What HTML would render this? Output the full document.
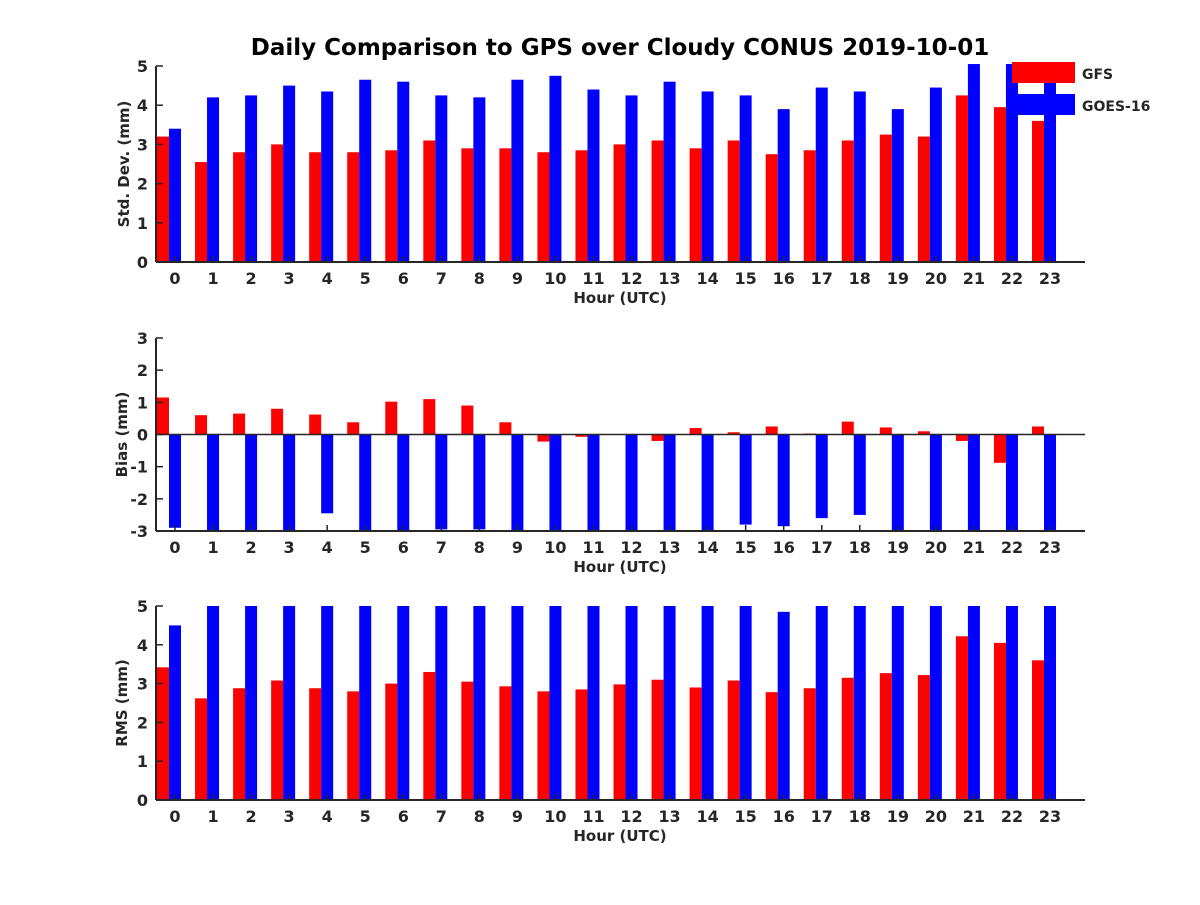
<!DOCTYPE html>
<html><head><meta charset="utf-8"><style>
body{margin:0;background:#fff}
svg text{font-family:"DejaVu Sans","Liberation Sans",sans-serif;font-weight:bold;fill:#262626}
</style></head><body>
<svg id="chart" width="1200" height="900" xmlns="http://www.w3.org/2000/svg">
<text x="620" y="55" text-anchor="middle" font-size="23" style="fill:#000">Daily Comparison to GPS over Cloudy CONUS 2019-10-01</text>
</svg>
<script>
const hours=[0,1,2,3,4,5,6,7,8,9,10,11,12,13,14,15,16,17,18,19,20,21,22,23];
const stdGFS=[3.2,2.55,2.8,3.0,2.8,2.8,2.85,3.1,2.9,2.9,2.8,2.85,3.0,3.1,2.9,3.1,2.75,2.85,3.1,3.25,3.2,4.25,3.95,3.6];
const stdGOES=[3.4,4.2,4.25,4.5,4.35,4.65,4.6,4.25,4.2,4.65,4.75,4.4,4.25,4.6,4.35,4.25,3.9,4.45,4.35,3.9,4.45,5.05,5.05,4.6];
const biasGFS=[1.15,0.6,0.65,0.8,0.62,0.38,1.02,1.1,0.9,0.38,-0.22,-0.07,0,-0.2,0.2,0.07,0.25,0.03,0.4,0.22,0.1,-0.2,-0.88,0.25];
const biasGOES=[-2.9,-3,-3,-3,-2.45,-3,-3,-2.95,-2.95,-3,-3,-3,-3,-3,-3,-2.8,-2.85,-2.6,-2.5,-3,-3,-3,-3,-3];
const rmsGFS=[3.42,2.62,2.88,3.08,2.88,2.8,3.0,3.3,3.05,2.93,2.8,2.85,2.98,3.1,2.9,3.08,2.78,2.88,3.15,3.27,3.22,4.22,4.05,3.6];
const rmsGOES=[4.5,5,5,5,5,5,5,5,5,5,5,5,5,5,5,5,4.85,5,5,5,5,5,5,5];
const stdTicks=[0,1,2,3,4,5];
const biasTicks=[-3,-2,-1,0,1,2,3];
const rmsTicks=[0,1,2,3,4,5];

const svg=document.getElementById('chart');
const NS='http://www.w3.org/2000/svg';
function mk(tag,attrs,parent){const e=document.createElementNS(NS,tag);for(const k in attrs)e.setAttribute(k,attrs[k]);(parent||svg).appendChild(e);return e;}
const X0=156,X1=1085;
const xs=h=>175+h*(875/23);

function panel(name,top,bot,ymin,ymax,ticks,gfs,goes,ylabel){
  const g=mk('g',{});
  
  
  const ys=v=>bot-(v-ymin)/(ymax-ymin)*(bot-top);
  const clip=v=>Math.max(ymin,Math.min(ymax+0.05,v));
  const base=ys(Math.max(ymin,0));
  hours.forEach((h,i)=>{
    const c=xs(h);
    const a=ys(clip(gfs[i]));
    const r=mk('rect',{x:c-18,y:Math.min(a,base),width:12,height:Math.abs(base-a),fill:'#ff0000'},g);
    
    
    const b=ys(clip(goes[i]));
    const r2=mk('rect',{x:c-6,y:Math.min(b,base),width:12,height:Math.abs(base-b),fill:'#0000ff'},g);
    
    
    mk('line',{x1:c,x2:c,y1:bot,y2:bot-6,stroke:'#262626','stroke-width':1.5},g);
    const tl=mk('text',{x:c,y:bot+22,'text-anchor':'middle','font-size':16},g);
    tl.textContent=h;
    
    
  });
  ticks.forEach(v=>{
    const y=ys(v);
    mk('line',{x1:X0,x2:X0+7,y1:y,y2:y,stroke:'#262626','stroke-width':1.5},g);
    const tl=mk('text',{x:X0-8,y:y+6,'text-anchor':'end','font-size':16},g);
    tl.textContent=v;
    
    
  });
  mk('line',{x1:X0,x2:X0,y1:top,y2:bot,stroke:'#262626','stroke-width':2},g);
  mk('line',{x1:X0,x2:X1,y1:bot,y2:bot,stroke:'#262626','stroke-width':2},g);
  if(ymin<0) mk('line',{x1:X0,x2:X1,y1:ys(0),y2:ys(0),stroke:'#262626','stroke-width':1.5},g);
  const xl=mk('text',{x:620,y:bot+41,'text-anchor':'middle','font-size':15},g);
  xl.textContent='Hour (UTC)';
  
  
  const yl=mk('text',{transform:`translate(${ylabel.length>10?129:127},${(top+bot)/2}) rotate(-90)`,'text-anchor':'middle','font-size':15},g);
  yl.textContent=ylabel;
  
  
}
panel('std',66,262,0,5,stdTicks,stdGFS,stdGOES,'Std. Dev. (mm)');
panel('bias',338,531,-3,3,biasTicks,biasGFS,biasGOES,'Bias (mm)');
panel('rms',606,800,0,5,rmsTicks,rmsGFS,rmsGOES,'RMS (mm)');

const lg=mk('g',{});


const e1=mk('rect',{x:1012,y:62,width:63,height:21,fill:'#ff0000'},lg);


const t1=mk('text',{x:1082,y:79,'font-size':14},lg);t1.textContent='GFS';


const e2=mk('rect',{x:1012,y:94,width:63,height:21,fill:'#0000ff'},lg);


const t2=mk('text',{x:1082,y:111,'font-size':14},lg);t2.textContent='GOES-16';


</script>
</body></html>
